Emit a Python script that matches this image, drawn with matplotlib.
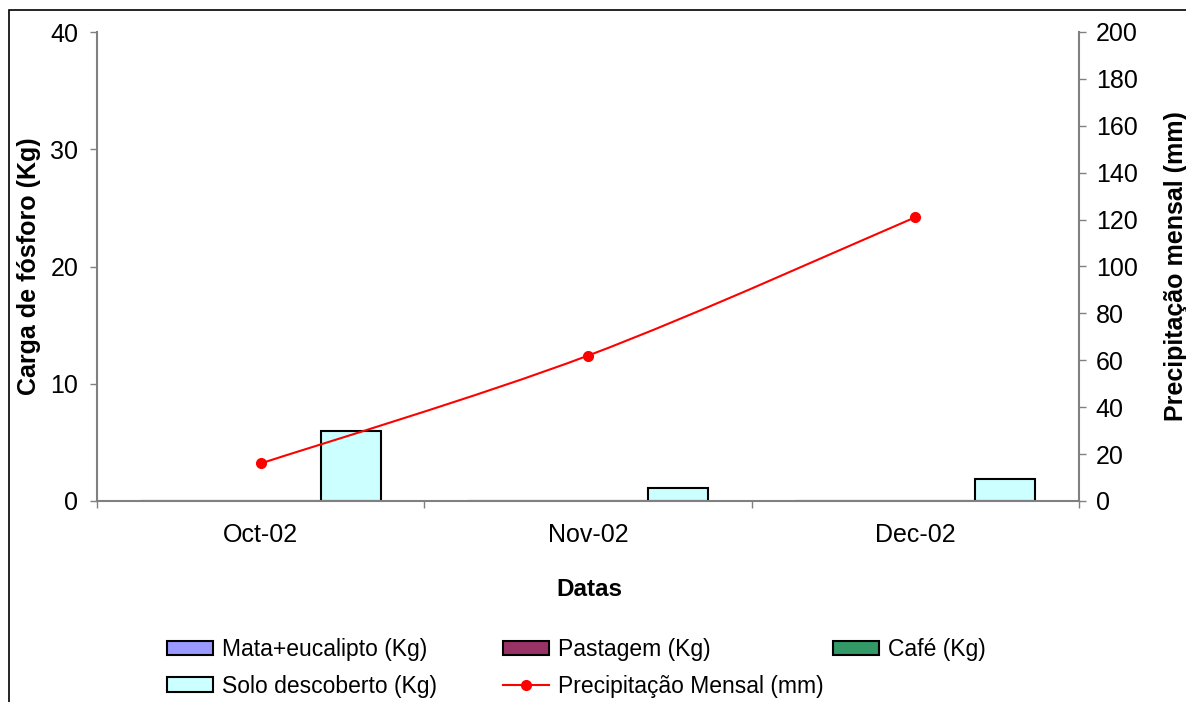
import matplotlib
matplotlib.use('Agg')
import matplotlib.pyplot as plt
import numpy as np
from matplotlib.path import Path
from matplotlib.patches import PathPatch, Rectangle, Patch
from matplotlib.lines import Line2D

plt.rcParams['font.family'] = ['Liberation Sans', 'DejaVu Sans']

# dados mensais
meses = ['Oct-02', 'Nov-02', 'Dec-02']
mata = [0, 0, 0]
pastagem = [0, 0, 0]
cafe = [0, 0, 0]
solo = [6.0, 1.1, 1.85]
precip = [16, 62, 121]

W, H = 1186, 702
FS = 18          # rotulos dos eixos
FS_LEG = 16.5    # legenda
CINZA = '#808080'

fig = plt.figure(figsize=(W / 100, H / 100), dpi=100)
ax = fig.add_axes([97 / W, 1 - 501 / H, (1079 - 97) / W, (501 - 32) / H])
ax2 = ax.twinx()

x = np.arange(len(meses))
w = 0.1833
series = [
    (mata, '#9999FF', 'Mata+eucalipto (Kg)'),
    (pastagem, '#993366', 'Pastagem (Kg)'),
    (cafe, '#339966', 'Café (Kg)'),
    (solo, '#CCFFFF', 'Solo descoberto (Kg)'),
]
for i, (vals, cor, nome) in enumerate(series):
    ax.bar(x + (i - 1.5) * w, vals, w, color=cor, edgecolor='black',
           linewidth=1.5, zorder=1, label=nome)

# linha suavizada (bezier) da precipitacao
pts = np.column_stack([x, precip]).astype(float)
n = len(pts)
verts = [pts[0]]
codes = [Path.MOVETO]
for i in range(n - 1):
    p_prev = pts[i - 1] if i > 0 else pts[i]
    p_next = pts[i + 2] if i + 2 < n else pts[i + 1]
    c1 = pts[i] + (pts[i + 1] - p_prev) / 6
    c2 = pts[i + 1] - (p_next - pts[i]) / 6
    verts += [c1, c2, pts[i + 1]]
    codes += [Path.CURVE4] * 3
ax2.add_patch(PathPatch(Path(verts, codes), facecolor='none',
                        edgecolor='#FF0000', linewidth=1.5, zorder=3))
ax2.plot(x, precip, linestyle='none', marker='o', markersize=7,
         color='#FF0000', zorder=4)

# eixos
ax.set_xlim(-0.5, 2.5)
ax.set_ylim(0, 40)
ax.set_yticks(range(0, 41, 10))
ax.set_xticks([-0.5, 0.5, 1.5, 2.5])
ax.set_xticklabels([])
ax.set_xticks(x, minor=True)
ax.set_xticklabels(meses, minor=True)
ax.tick_params(axis='y', direction='out', length=5, width=1, color=CINZA,
               labelsize=FS, pad=8.5)
ax.tick_params(axis='x', which='major', direction='out', length=5, width=1,
               color=CINZA)
ax.tick_params(axis='x', which='minor', length=0, pad=15.5, labelsize=FS)

ax2.set_ylim(0, 200)
ax2.set_yticks(range(0, 201, 20))
ax2.tick_params(axis='y', direction='out', length=5, width=1, color=CINZA,
                labelsize=FS, pad=7)

for s in ['top', 'right']:
    ax.spines[s].set_visible(False)
for s in ['top', 'left', 'bottom']:
    ax2.spines[s].set_visible(False)
for sp in [ax.spines['left'], ax.spines['bottom'], ax2.spines['right']]:
    sp.set_color(CINZA)
    sp.set_linewidth(1.5)

fig.text(29.5 / W, 1 - 266 / H, 'Carga de fósforo (Kg)', rotation=90,
         ha='center', va='center', fontsize=FS, fontweight='bold')
fig.text(1176 / W, 1 - 266 / H, 'Precipitação mensal (mm)', rotation=90,
         ha='center', va='center', fontsize=FS, fontweight='bold')
fig.text(589 / W, 1 - 590 / H, 'Datas', ha='center', va='center',
         fontsize=17.5, fontweight='bold')

# legenda em tres colunas
def caixa(cor):
    return Patch(facecolor=cor, edgecolor='black', linewidth=1.5)

linha = Line2D([], [], color='#FF0000', marker='o', markersize=7, linewidth=1.5)
colunas = [
    ([caixa(series[0][1]), caixa(series[3][1])], [series[0][2], series[3][2]], 167),
    ([caixa(series[1][1]), linha], [series[1][2], 'Precipitação Mensal (mm)'], 503),
    ([caixa(series[2][1])], [series[2][2]], 833),
]
for hs, labs, x0 in colunas:
    fig.legend(hs, labs, loc='upper left', bbox_to_anchor=(x0 / W, 1 - 638 / H),
               frameon=False, borderpad=0, borderaxespad=0, handlelength=2.0,
               handleheight=0.6, handletextpad=0.4, labelspacing=0.6,
               fontsize=FS_LEG)

# moldura externa
fig.patches.append(Rectangle((9 / W, -0.1), 2, (1 - 10 / H) + 0.1,
                             transform=fig.transFigure, fill=False,
                             edgecolor='black', linewidth=1.2))

fig.savefig('out.png', dpi=100)
